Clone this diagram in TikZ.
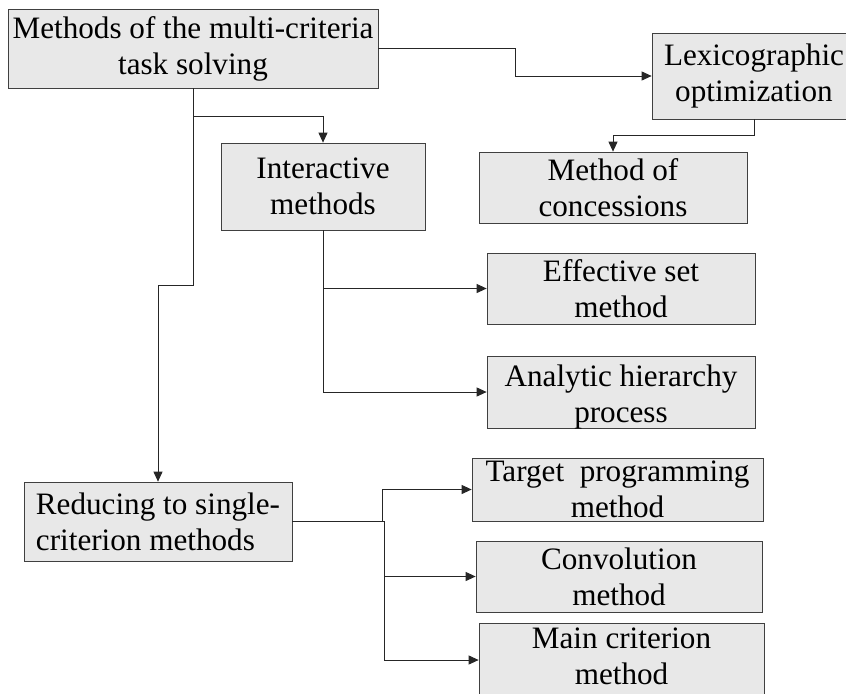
\documentclass[tikz,border=0pt]{standalone}
\usepackage{fontspec}
\setmainfont{Liberation Serif}
\usetikzlibrary{arrows.meta}
\begin{document}
\begin{tikzpicture}[x=0.03cm, y=-0.03cm,
    box/.style 2 args={draw=black!75, fill=black!9, line width=0.6pt, inner sep=0pt,
        minimum width=#1*0.03cm, minimum height=#2*0.03cm},
    txt/.style={align=center, font=\fontsize{26.6}{30.6}\selectfont, inner sep=0pt},
    link/.style={draw=black!85, line width=0.8pt},
    arr/.style={link, -{Triangle[length=0.3cm, width=0.27cm]}}]
    \useasboundingbox (0,0) rectangle (846,693);
    \clip (0,0) rectangle (846,693);

    \node[box={370}{79}] (main) at (193,48.5) {};
    \node[box={204}{86}] (lexi) at (754,76) {};
    \node[box={268}{71}] (conc) at (613,187.5) {};
    \node[box={204}{87}] (inter) at (323,186.5) {};
    \node[box={268}{71}] (eff) at (621,288.5) {};
    \node[box={268}{72}] (ahp) at (621,392) {};
    \node[box={268}{79}] (red) at (158,521.5) {};
    \node[box={291}{63}] (tgt) at (617.5,489.5) {};
    \node[box={286}{71}] (conv) at (619,576.5) {};
    \node[box={285}{74}] (mcrit) at (621.5,660) {};

    \node[txt] (main-t) at (main.center) {Methods of the multi-criteria\\task solving};
    \node[txt] (lexi-t) at (lexi.center) {Lexicographic\\optimization};
    \node[txt] (conc-t) at (conc.center) {Method of\\concessions};
    \node[txt] (inter-t) at (inter.center) {Interactive\\methods};
    \node[txt] (eff-t) at (eff.center) {Effective set\\method};
    \node[txt, yshift=-0.15cm] (ahp-t) at (ahp.center) {Analytic hierarchy\\process};
    \node[txt, align=left] (red-t) at (red.center) {Reducing to single-\\criterion methods};
    \node[txt] (tgt-t) at (tgt.center) {Target\ \ programming\\method};
    \node[txt] (conv-t) at (conv.center) {Convolution\\method};
    \node[txt, yshift=0.1cm] (mcrit-t) at (mcrit.center) {Main criterion\\method};

    % connectors
    \draw[arr] (main.east) -- (515,48.5) |- (lexi.west);
    \draw[arr] (lexi.south) |- (613,135) -- (conc.north);
    \draw[arr] (main.south) -- (193,116) -| (inter.north);
    \draw[arr] (193,116) -- (193,285) -| (red.north);
    \draw[arr] (inter.south) |- (eff.west);
    \draw[arr] (inter.south) |- (ahp.west);
    \draw[arr] (red.east) -- (382,521.5) |- (tgt.west);
    \draw[arr] (red.east) -- (384,521.5) |- (conv.west);
    \draw[arr] (red.east) -- (384,521.5) |- (mcrit.west);
\end{tikzpicture}
\end{document}
